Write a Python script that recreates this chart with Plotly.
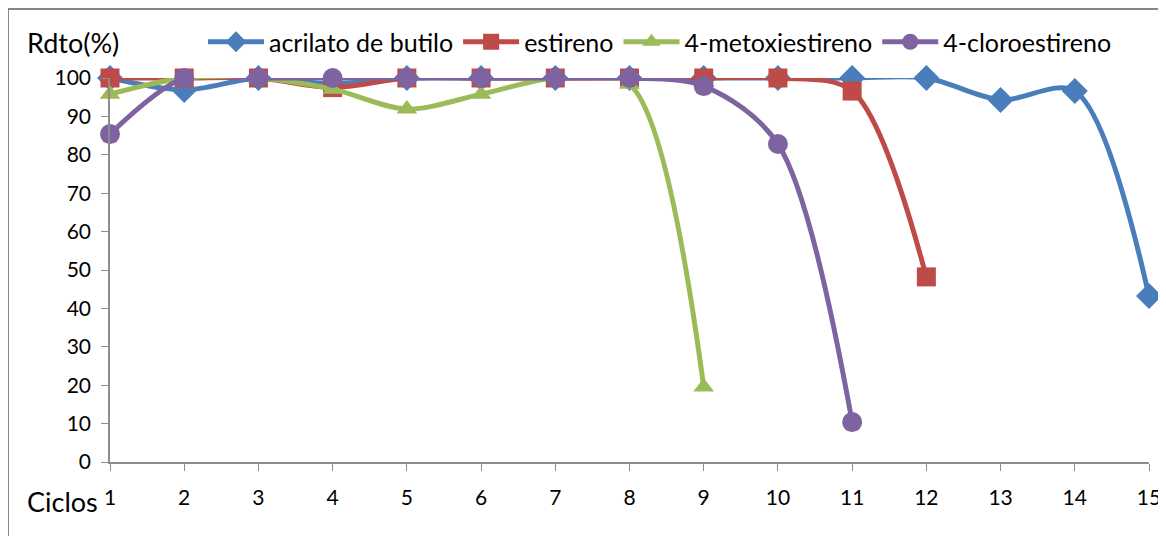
import plotly.graph_objects as go

ciclos = list(range(1, 16))

acrilato = [100, 96.9, 100, 98.5, 100, 100, 100, 100, 100, 100, 100, 100, 94.3, 96.6, 43.2]
estireno = [100, 100, 100, 97.5, 100, 100, 100, 100, 100, 100, 96.6, 48.2]
metoxi = [95.8, 100, 100, 97.1, 91.9, 95.8, 100, 98.4, 19.5]
cloro = [85.4, 100, 100, 100, 100, 100, 100, 100, 97.9, 82.8, 10.4]

series = [
    ("acrilato de butilo", acrilato, "#4A7EBB", "diamond", 20),
    ("estireno", estireno, "#BE4B48", "square", 19),
    ("4-metoxiestireno", metoxi, "#9BBB59", "triangle-up", 18),
    ("4-cloroestireno", cloro, "#7F63A1", "circle", 20),
]

fig = go.Figure()
for name, vals, color, sym, size in series:
    fig.add_trace(go.Scatter(
        x=ciclos[:len(vals)], y=vals, name=name, mode="lines+markers",
        line=dict(color=color, width=5, shape="spline", smoothing=0.9),
        marker=dict(symbol=sym, size=size, color=color),
        cliponaxis=False,
    ))

font = dict(family="Lato, Liberation Sans, sans-serif", size=21, color="black")

# the page body adds an 8px offset, so the figure is 8px smaller and shifted
W = 1149 - 110
H = 462 - 78

def px(x):
    return (x - 110) / W

def py(y):
    return (462 - y) / H

fig.update_layout(
    width=1158, height=528,
    margin=dict(l=102, r=17, t=70, b=74, autoexpand=False),
    paper_bgcolor="white", plot_bgcolor="white",
    font=font,
    showlegend=True,
    legend=dict(orientation="h", x=px(203), xanchor="left",
                y=py(42), yanchor="middle",
                font=dict(family=font["family"], size=25, color="black"),
                itemwidth=56, tracegroupgap=0,
                bgcolor="rgba(0,0,0,0)"),
    xaxis=dict(range=[1, 15], tickmode="array", tickvals=ciclos,
               showline=True, linecolor="#8C8C8C", linewidth=1.5,
               ticks="outside", ticklen=7, tickcolor="#8C8C8C",
               showgrid=False, zeroline=False, ticklabelstandoff=9,
               automargin=False),
    yaxis=dict(range=[0, 100], dtick=10,
               showline=True, linecolor="#8C8C8C", linewidth=1.5,
               ticks="outside", ticklen=7, tickcolor="#8C8C8C",
               showgrid=False, zeroline=False, ticklabelstandoff=6,
               automargin=False),
    annotations=[
        dict(text="Rdto(%)", x=px(25), y=py(42),
             xref="paper", yref="paper", xanchor="left", yanchor="middle",
             showarrow=False, font=dict(size=27)),
        dict(text="Ciclos", x=px(25), y=py(501),
             xref="paper", yref="paper", xanchor="left", yanchor="middle",
             showarrow=False, font=dict(size=27)),
    ],
)

fig.add_shape(type="rect", xref="paper", yref="paper",
              x0=px(8), x1=px(1175), y0=py(545), y1=py(9),
              line=dict(color="#868686", width=2))

fig.write_html("out.html")
